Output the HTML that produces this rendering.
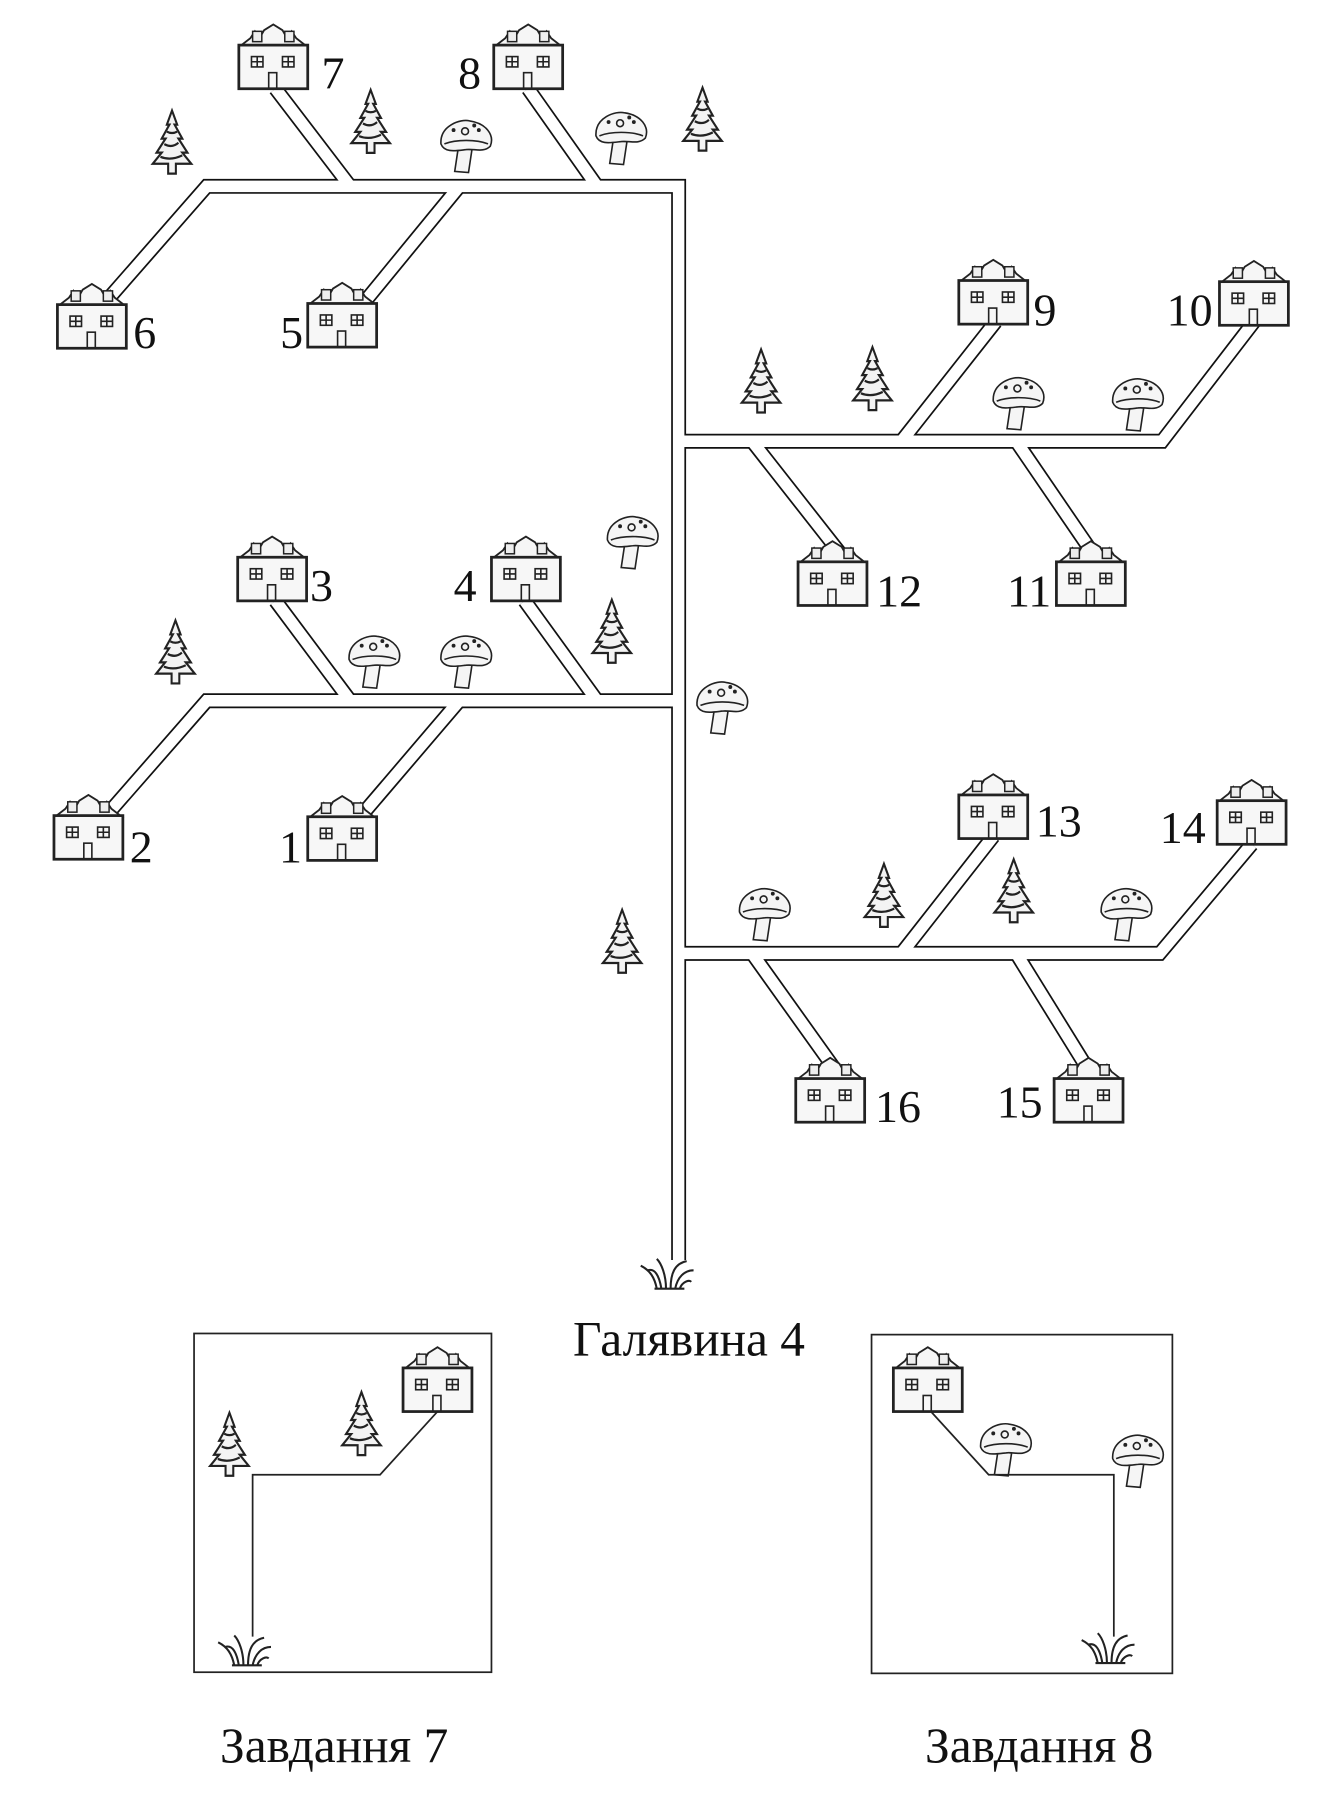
<!DOCTYPE html>
<html><head><meta charset="utf-8"><style>html,body{margin:0;padding:0;background:#fff}svg{display:block}</style></head>
<body>
<svg width="1332" height="1800" viewBox="0 0 1160 1567" xmlns="http://www.w3.org/2000/svg">
<defs>
<g id="house">
<path d="M1,20 L10,13 L14,7 L18,13 L22,6 L30,1 L38,6 L42,13 L46,7 L50,13 L59,20 Z" fill="#f6f6f6" stroke="#222" stroke-width="1.6"/>
<rect x="12" y="7" width="8" height="9" fill="#eee" stroke="#222" stroke-width="1.3"/>
<rect x="40" y="7" width="8" height="9" fill="#eee" stroke="#222" stroke-width="1.3"/>
<rect x="0" y="19" width="60" height="38" fill="#f7f7f7" stroke="#222" stroke-width="2.4"/>
<g fill="none" stroke="#222" stroke-width="1.4">
<rect x="11" y="29" width="10" height="9"/><path d="M16,29 V38 M11,33.5 H21"/>
<rect x="38" y="29" width="10" height="9"/><path d="M43,29 V38 M38,33.5 H48"/>
<rect x="26" y="43" width="7" height="14"/>
</g>
</g>
<g id="tree0" fill="#f3f3f3" stroke="#222" stroke-width="1.6">
<path d="M15,0 L19,10 L17,10 L23,20 L20,20 L27,30 L23,30 L30,38 L18,38 L18,45 L12,45 L12,38 L0,38 L7,30 L3,30 L10,20 L7,20 L13,10 L11,10 Z"/>
<path d="M9,24 q6,3 11,-1 M6,33 q8,3 17,-1 M11,15 q4,2 8,0" fill="none"/>
</g>
<g id="tree"><use href="#tree0" transform="translate(-2,-4) scale(1.12,1.22)"/></g>
<g id="mush" stroke="#222" stroke-width="1.4" fill="#f5f5f5">
<path d="M16,26 L13,46 L25,47 L28,27 Z"/>
<path d="M1,22 C0,6 18,0 26,2 C40,4 48,14 44,24 C38,30 30,26 23,27 C14,28 4,30 1,22 Z"/>
<path d="M4,22 C14,18 32,18 42,22" fill="none"/>
<circle cx="22" cy="11" r="3" fill="none"/><circle cx="12" cy="10" r="1" fill="#222"/><circle cx="34" cy="10" r="1" fill="#222"/><circle cx="30" cy="6" r="1" fill="#222"/>
</g>
<g id="grass" fill="none" stroke="#222" stroke-width="1.8">
<path d="M12,28 L38,28 M14,28 C12,18 8,12 0,8 M18,28 C16,16 12,10 6,12 M22,28 C22,16 18,6 14,2 M26,28 C26,14 30,6 40,4 M30,28 C32,18 38,12 46,12 M34,28 C36,22 42,20 44,22"/>
</g>
</defs>

<g fill="none" stroke-linejoin="miter" stroke-linecap="butt">
<g stroke="#111" stroke-width="13">
<path d="M591,1097 V162 H180 L96,258"/>
<path d="M240,77 L305,162"/><path d="M460,77 L520,162"/><path d="M400,162 L318,262"/>
<path d="M591,384 H1012 L1092,280"/><path d="M785,384 L867,280"/><path d="M655,384 L732,482"/><path d="M885,384 L952,482"/>
<path d="M591,610 H180 L96,706"/><path d="M240,523 L305,610"/><path d="M457,523 L520,610"/><path d="M400,610 L318,706"/>
<path d="M591,830 H1010 L1090,735"/><path d="M785,830 L865,728"/><path d="M655,830 L730,935"/><path d="M885,830 L950,935"/>
</g>
<g stroke="#fff" stroke-width="10">
<path d="M591,1099 V162 H180 L96,258"/>
<path d="M240,77 L305,162"/><path d="M460,77 L520,162"/><path d="M400,162 L318,262"/>
<path d="M591,384 H1012 L1092,280"/><path d="M785,384 L867,280"/><path d="M655,384 L732,482"/><path d="M885,384 L952,482"/>
<path d="M591,610 H180 L96,706"/><path d="M240,523 L305,610"/><path d="M457,523 L520,610"/><path d="M400,610 L318,706"/>
<path d="M591,830 H1010 L1090,735"/><path d="M785,830 L865,728"/><path d="M655,830 L730,935"/><path d="M885,830 L950,935"/>
</g>
</g>

<use href="#house" x="208" y="20"/>
<use href="#house" x="430" y="20"/>
<use href="#house" x="50" y="246"/>
<use href="#house" x="268" y="245"/>
<use href="#house" x="835" y="225"/>
<use href="#house" x="1062" y="226"/>
<use href="#house" x="695" y="470"/>
<use href="#house" x="920" y="470"/>
<use href="#house" x="207" y="466"/>
<use href="#house" x="428" y="466"/>
<use href="#house" x="47" y="691"/>
<use href="#house" x="268" y="692"/>
<use href="#house" x="835" y="673"/>
<use href="#house" x="1060" y="678"/>
<use href="#house" x="693" y="920"/>
<use href="#house" x="918" y="920"/>

<g font-family="Liberation Serif, serif" font-size="40" fill="#111">
<text x="280" y="77">7</text><text x="399" y="77">8</text>
<text x="116" y="303">6</text><text x="244" y="303">5</text>
<text x="900" y="283">9</text><text x="1016" y="283">10</text>
<text x="763" y="528">12</text><text x="877" y="528">11</text>
<text x="270" y="523">3</text><text x="395" y="523">4</text>
<text x="113" y="751">2</text><text x="243" y="751">1</text>
<text x="902" y="728">13</text><text x="1010" y="734">14</text>
<text x="762" y="977">16</text><text x="868" y="973">15</text>
</g>
<g font-family="Liberation Serif, serif" font-size="43" fill="#111" text-anchor="middle">
<text x="600" y="1180">Галявина 4</text>
<text x="291" y="1534">Завдання 7</text>
<text x="905" y="1534">Завдання 8</text>
</g>

<use href="#tree" x="135" y="100"/><use href="#tree" x="308" y="82"/><use href="#tree" x="597" y="80"/>
<use href="#tree" x="648" y="308"/><use href="#tree" x="745" y="306"/><use href="#tree" x="138" y="544"/>
<use href="#tree" x="518" y="526"/><use href="#tree" x="527" y="796"/><use href="#tree" x="755" y="756"/>
<use href="#tree" x="868" y="752"/><use href="#tree" x="185" y="1234"/><use href="#tree" x="300" y="1216"/>

<use href="#mush" x="383" y="103"/><use href="#mush" x="518" y="96"/><use href="#mush" x="864" y="327"/>
<use href="#mush" x="968" y="328"/><use href="#mush" x="528" y="448"/><use href="#mush" x="303" y="552"/>
<use href="#mush" x="383" y="552"/><use href="#mush" x="606" y="592"/><use href="#mush" x="643" y="772"/>
<use href="#mush" x="958" y="772"/><use href="#mush" x="853" y="1238"/><use href="#mush" x="968" y="1248"/>

<use href="#grass" x="558" y="1094"/>
<use href="#grass" x="190" y="1422"/>
<use href="#grass" x="942" y="1420"/>

<g fill="none" stroke="#222" stroke-width="1.5">
<rect x="169" y="1161" width="259" height="295"/>
<rect x="759" y="1162" width="262" height="295"/>
<path d="M381,1229 L331,1284 H220 V1425"/>
<path d="M808,1226 L861,1284 H970 V1425"/>
</g>
<use href="#house" x="351" y="1172"/>
<use href="#house" x="778" y="1172"/>
</svg>
</body></html>
